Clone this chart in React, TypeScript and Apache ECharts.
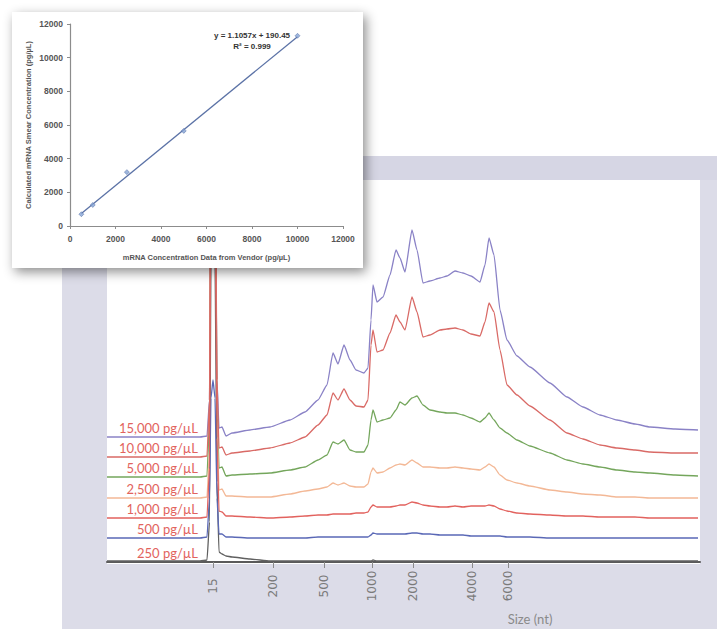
import React, { useEffect, useRef } from "react";
import * as echarts from "echarts";

// ---------- Electropherogram data (migration time, s) ----------
const migrationTimes = [
  0, 9.3, 10.0, 10.25, 10.4, 10.6, 10.8, 11.0, 11.2, 11.5,
  11.9, 12.5, 14.3, 16.3, 18.3, 19.8, 21.1, 22.0, 22.6, 23.1,
  23.7, 24.3, 24.9, 25.7, 26.1, 26.4, 26.6, 27.0, 27.6, 28.3,
  28.9, 29.3, 29.8, 30.5, 31.0, 31.6, 32.3, 33.3, 34.0, 34.8,
  35.6, 36.4, 37.3, 37.8, 38.2, 38.7, 39.3, 40.0, 41.0, 42.3,
  44.3, 46.0, 47.6, 49.3, 51.0, 52.8, 54.3, 56.8, 59.1,
];

const ladderSizes = ["15", "200", "500", "1000", "2000", "4000", "6000"];
const ladderTimes = [10.6, 16.6, 21.7, 26.5, 30.6, 36.5, 40.1];

const sampleLabels = [
  "15,000 pg/µL",
  "10,000 pg/µL",
  "5,000 pg/µL",
  "2,500 pg/µL",
  "1,000 pg/µL",
  "500 pg/µL",
  "250 pg/µL",
];
const traceOffsets = [62.5, 52.5, 42.5, 32, 22, 12, 0];

const trace15000 = [
  0, 0, 0.5, 18.5, 143.5, 168.5, 143.5, 28.5, 4.5, 5,
  0.5, 2, 3.5, 5, 8.5, 12.5, 18.5, 26, 42, 36.5,
  46, 38.5, 33.5, 32, 34.5, 58.5, 76, 67.5, 70, 81,
  93.5, 89.5, 82.5, 103.5, 93.5, 77, 78, 79.5, 80.5, 83,
  82, 80.5, 77.5, 86, 99.5, 91, 63.5, 48.5, 40.5, 35,
  27, 20, 15, 11, 8.5, 6.5, 5, 4, 3.5,
];
const trace10000 = [
  0, 0, 0.5, 28.5, 178.5, 188.5, 178.5, 38.5, 4.5, 5,
  1, 2, 3, 4.5, 7, 10, 16, 21, 32, 28.5,
  34, 28.5, 25.5, 25, 28.5, 56, 63.5, 52.5, 53.5, 62,
  71, 67.5, 63.5, 80, 72.5, 60, 61, 63.5, 64, 64.5,
  63.5, 61.5, 60.5, 67.5, 77, 72.5, 53.5, 36, 31, 25.5,
  18.5, 12, 9, 6, 4.5, 3.5, 2.5, 2, 2,
];
const trace5000 = [
  0, 0, 0.5, 28.5, 178.5, 188.5, 178.5, 38.5, 4.5, 5,
  0.5, 1, 1.5, 2, 3.5, 5, 8.5, 11, 17.5, 16.5,
  18.5, 13.5, 12.5, 12.5, 16, 28.5, 33.5, 27.5, 28.5, 29.5,
  33.5, 37.5, 36, 39.5, 40.5, 36, 33.5, 32.5, 32, 32,
  31, 29.5, 27.5, 29.5, 32, 28.5, 24.5, 22, 18.5, 15.5,
  12, 8.5, 6.5, 5, 3.5, 2.5, 2, 1, 0.5,
];
const trace2500 = [
  0, 0, 0.5, 24, 184, 194, 184, 39, 4, 4.5,
  1, 1, 0.5, 0.5, 2, 3.5, 4.5, 5.5, 7.5, 6.5,
  7.5, 6, 5.5, 5.5, 7, 13, 15, 12.5, 13, 15,
  16.5, 17, 16.5, 19, 17.5, 15.5, 15.5, 15, 15, 15.5,
  15, 14.5, 14, 15.5, 17, 15.5, 11.5, 9, 7.5, 6,
  4, 3, 2, 1.5, 0.5, 0.5, 0, 0, 0,
];
const trace1000 = [
  0, 0, 0.5, 25, 185, 195, 185, 40, 3.5, 3,
  1, 1, 0.5, 0, 0.5, 1, 1.5, 1.5, 2, 2,
  2, 2, 2.5, 2.5, 3, 5.5, 6.5, 5.5, 5.5, 5.5,
  6, 6.5, 6.5, 8, 7.5, 6.5, 6, 5.5, 5.5, 6,
  5.5, 6, 6, 6, 6.5, 6, 4.5, 3.5, 2.5, 2,
  1.5, 1, 1, 0.5, 0.5, 0.5, 0, 0, 0,
];
const trace500 = [
  0, 0, 0.5, 20, 70, 79, 70, 20, 2, 2,
  0.5, 0.5, 0, 0, 0, 0, 0.5, 0.5, 0.5, 0.5,
  0.5, 0.5, 0.5, 0.5, 0.5, 1.5, 2.5, 2, 2, 2,
  2, 2, 2, 2.5, 2.5, 2, 2, 1.5, 1.5, 1.5,
  1.5, 1, 1, 1, 1, 1, 1, 0.5, 0.5, 0.5,
  0, 0, 0, 0, 0, 0, 0, 0, 0,
];
const trace250 = [
  0.5, 0.5, 1, 20, 150, 160, 150, 40, 5, 4,
  3, 2.5, 1.5, 0.5, 0.5, 0.5, 0.5, 0.5, 0.5, 0.5,
  0.5, 0.5, 0.5, 0.5, 0.5, 0.5, 1, 0.5, 0.5, 0.5,
  0.5, 0.5, 0.5, 0.5, 0.5, 0.5, 0.5, 0.5, 0.5, 0.5,
  0.5, 0.5, 0.5, 0.5, 0.5, 0.5, 0.5, 0.5, 0.5, 0.5,
  0.5, 0.5, 0.5, 0.5, 0.5, 0.5, 0.5, 0.5, 0.5,
];
const traces = [trace15000, trace10000, trace5000, trace2500, trace1000, trace500, trace250];
const traceColors = ["#8a82c6", "#d96a66", "#74a65c", "#f3b896", "#e2625e", "#5a68b6", "#606060"];
const drawOrder = [0, 2, 3, 6, 5, 4, 1];

// ---------- Inset: calibration ----------
const vendorConc = [500, 1000, 2500, 5000, 10000];
const calculatedConc = [700, 1250, 3200, 5650, 11300];
const trendSlope = 1.1057;
const trendIntercept = 190.45;
const trendRange = [500, 10000];

const mainFont = "Lato, 'Open Sans', sans-serif";
const insetFont = "'Liberation Sans', Arial, sans-serif";

export default function App() {
  const ref = useRef<HTMLDivElement>(null);

  useEffect(() => {
    if (!ref.current) return;
    const chart = echarts.init(ref.current, null, { renderer: "svg" });

    const traceSeries = drawOrder.map((i) => ({
      type: "line",
      xAxisIndex: 0,
      yAxisIndex: 0,
      name: sampleLabels[i],
      data: migrationTimes.map((t, k) => [t, traceOffsets[i] + traces[i][k]]),
      showSymbol: false,
      symbol: "none",
      smooth: 0.15,
      smoothMonotone: "x",
      lineStyle: { color: traceColors[i], width: 1.3 },
      z: 2,
      silent: true,
    }));

    const staticGraphics: any[] = [
      { type: "rect", z: -5, shape: { x: 62, y: 156, width: 655, height: 473 }, style: { fill: "#dcdce8" } },
      { type: "rect", z: -4, shape: { x: 62, y: 156, width: 655, height: 24 }, style: { fill: "#d6d6e4" } },
      { type: "rect", z: -3, shape: { x: 107, y: 180, width: 593, height: 384 }, style: { fill: "#ffffff" } },
      {
        type: "rect",
        z: 10,
        shape: { x: 12, y: 12, width: 351, height: 256 },
        style: { fill: "#ffffff", shadowBlur: 12, shadowColor: "rgba(0,0,0,0.45)", shadowOffsetX: 3, shadowOffsetY: 4 },
      },
      {
        type: "text",
        z: 30,
        x: 252,
        y: 35,
        style: { text: `y = ${trendSlope}x + ${trendIntercept}`, fill: "#333", font: `bold 8px ${insetFont}`, align: "center", verticalAlign: "middle" },
      },
      {
        type: "text",
        z: 30,
        x: 252,
        y: 46,
        style: { text: "R² = 0.999", fill: "#333", font: `bold 8px ${insetFont}`, align: "center", verticalAlign: "middle" },
      },
      {
        type: "text",
        z: 5,
        x: 530,
        y: 619,
        style: { text: "Size (nt)", fill: "#8a8a8a", font: `13px ${mainFont}`, align: "center", verticalAlign: "middle" },
      },
    ];

    const plainNumber = (v: number) => String(v);

    const option: any = {
      animation: false,
      backgroundColor: "#ffffff",
      grid: [
        { left: 107, top: 180, width: 593, height: 382 },
        { left: 70, top: 24, width: 273, height: 202, z: 20 },
      ],
      xAxis: [
        {
          type: "value",
          gridIndex: 0,
          min: 0,
          max: 59.3,
          axisLine: { show: true, onZero: false, lineStyle: { color: "#5a5a5a", width: 2 } },
          axisTick: { show: true, customValues: ladderTimes, length: 6, lineStyle: { color: "#8a8a8a" } },
          axisLabel: {
            customValues: ladderTimes,
            rotate: 90,
            margin: 24,
            align: "center",
            verticalAlign: "middle",
            color: "#7a7a7a",
            fontSize: 12,
            fontFamily: "'DejaVu Sans', sans-serif",
            formatter: (v: number) => {
              const i = ladderTimes.findIndex((t) => Math.abs(t - v) < 1e-6);
              return i >= 0 ? ladderSizes[i] : "";
            },
          },
          splitLine: { show: false },
        },
        {
          type: "value",
          gridIndex: 1,
          min: 0,
          max: 12000,
          interval: 2000,
          z: 20,
          axisLine: { show: true, onZero: false, lineStyle: { color: "#8c8c8c", width: 1.2 } },
          axisTick: { show: true, length: 3, lineStyle: { color: "#8c8c8c" } },
          axisLabel: { color: "#555", fontSize: 8.5, fontWeight: "bold", fontFamily: insetFont, margin: 8, formatter: plainNumber },
          splitLine: { show: false },
          name: "mRNA Concentration Data from Vendor (pg/µL)",
          nameLocation: "middle",
          nameGap: 27,
          nameTextStyle: { color: "#555", fontSize: 7.5, fontWeight: "bold", fontFamily: insetFont },
        },
      ],
      yAxis: [
        { type: "value", gridIndex: 0, min: 0, max: 191, show: false },
        {
          type: "value",
          gridIndex: 1,
          min: 0,
          max: 12000,
          interval: 2000,
          z: 20,
          axisLine: { show: true, onZero: false, lineStyle: { color: "#8c8c8c", width: 1.2 } },
          axisTick: { show: true, length: 3, lineStyle: { color: "#8c8c8c" } },
          axisLabel: { color: "#555", fontSize: 8.5, fontWeight: "bold", fontFamily: insetFont, margin: 7, formatter: plainNumber },
          splitLine: { show: false },
          name: "Calculated mRNA Smear Concentration (pg/µL)",
          nameLocation: "middle",
          nameRotate: 90,
          nameGap: 38,
          nameTextStyle: { color: "#555", fontSize: 7.5, fontWeight: "bold", fontFamily: insetFont },
        },
      ],
      series: [
        ...traceSeries,
        {
          type: "line",
          xAxisIndex: 1,
          yAxisIndex: 1,
          data: trendRange.map((x) => [x, trendSlope * x + trendIntercept]),
          symbol: "none",
          lineStyle: { color: "#5b72a6", width: 1.3 },
          z: 21,
          silent: true,
        },
        {
          type: "scatter",
          xAxisIndex: 1,
          yAxisIndex: 1,
          data: vendorConc.map((x, i) => [x, calculatedConc[i]]),
          symbol: "diamond",
          symbolSize: 5,
          itemStyle: { color: "#86a4d4", borderColor: "#4f6aa2", borderWidth: 0.6 },
          z: 22,
          silent: true,
        },
      ],
      graphic: { elements: staticGraphics },
    };

    chart.setOption(option);

    const labelGraphics = sampleLabels.map((label, i) => {
      const p = chart.convertToPixel({ xAxisIndex: 0, yAxisIndex: 0 }, [0, traceOffsets[i]]) as number[];
      return {
        type: "text",
        z: 5,
        x: 198,
        y: p[1] - 9,
        style: { text: label, fill: "#e2635d", font: `13px ${mainFont}`, align: "right", verticalAlign: "middle" },
      };
    });

    chart.setOption({ graphic: { elements: [...staticGraphics, ...labelGraphics] } }, { replaceMerge: ["graphic"] });

    return () => chart.dispose();
  }, []);

  return (
    <div
      ref={ref}
      style={{ position: "fixed", left: 0, top: 0, width: 717, height: 629, background: "#ffffff" }}
    />
  );
}
